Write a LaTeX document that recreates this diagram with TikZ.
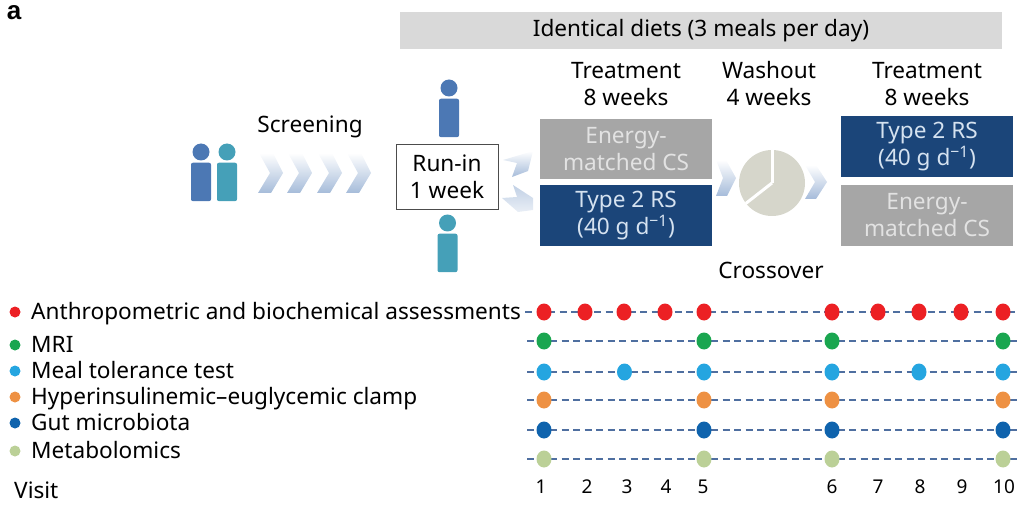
\documentclass[tikz,border=0pt]{standalone}
\usepackage{fontspec}
\setmainfont{Noto Sans}
\newfontfamily\panelfont{Liberation Sans}
\usetikzlibrary{shapes.geometric}
\definecolor{barGray}{HTML}{D9D9D9}
\definecolor{csGray}{HTML}{A6A6A6}
\definecolor{rsNavy}{HTML}{1B4579}
\definecolor{csText}{HTML}{E2E2E2}
\definecolor{rsText}{HTML}{D5E2F0}
\definecolor{personBlue}{HTML}{4C78B4}
\definecolor{personTeal}{HTML}{45A0B8}
\definecolor{pieGray}{HTML}{D6D6CB}
\definecolor{lineBlue}{HTML}{4F6FA0}
\definecolor{dotRed}{HTML}{EC2024}
\definecolor{dotGreen}{HTML}{1AA650}
\definecolor{dotSky}{HTML}{25A5E0}
\definecolor{dotOrange}{HTML}{EE9143}
\definecolor{dotBlue}{HTML}{0F63AD}
\definecolor{dotOlive}{HTML}{BBD097}
\begin{document}
\begin{tikzpicture}[x=1pt,y=-1pt,font=\fontsize{22.6}{27}\selectfont]
            \tikzstyle{label}=[inner sep=0pt,align=center]
            \tikzstyle{legend}=[inner sep=0pt,anchor=base west]
            \tikzstyle{block}=[minimum width=172pt,inner sep=0pt,align=center]
            \tikzstyle{chev}=[top color=white,bottom color=personBlue!50]
            \tikzstyle{visit}=[ellipse,inner sep=0pt,minimum width=15pt,minimum height=17pt]
            \tikzstyle{track}=[lineBlue,line width=1.9pt,dash pattern=on 7pt off 4.5pt]
            \useasboundingbox (0,0) rectangle (1023,505);
            % top band and panel letter
            \node[label,font=\fontsize{26}{26}\selectfont\panelfont\bfseries] (panel) at (14,13) {a};
            \node[fill=barGray,minimum width=602pt,minimum height=37pt,inner sep=0pt] (diets) at (701,30.5) {Identical diets (3 meals per day)};
            \node[label] (treatA) at (626,84) {Treatment\\8 weeks};
            \node[label] (wash) at (769,84) {Washout\\4 weeks};
            \node[label] (treatB) at (927,84) {Treatment\\8 weeks};
            \node[label] (screen) at (310,127) {Screening};
            \node[label] (cross) at (771,270) {Crossover};
            % people
            \foreach \pname/\px/\py/\pcol in {pa/201/152/personBlue,pb/227/152/personTeal,pc/449/88/personBlue,pd/447.5/223/personTeal}{
                \node[circle,fill=\pcol,minimum size=17pt,inner sep=0pt] (\pname head) at (\px,\py) {};
                \node[fill=\pcol,rounded corners=2pt,minimum width=20pt,minimum height=38.5pt,inner sep=0pt,anchor=north] (\pname body) at (\px,\py+10.5) {};
            }
            % chevrons
            \foreach \cx in {259,288,318,347}
                \shade[chev] (\cx,153) -- (\cx+14,153) -- (\cx+24,173) -- (\cx+12,193) -- (\cx-1,193) -- (\cx+11,173) -- cycle;
            \shade[chev] (716,160) -- (726,160) -- (736,178) -- (727,196) -- (716,196) -- (723,178) -- cycle;
            \shade[chev] (805,165) -- (816,165) -- (827,182) -- (816,199) -- (805,199) -- (815,182) -- cycle;
            \shade[chev] (503,160) -- (533,151) -- (528,171) -- (512,177) -- (517,163) -- cycle;
            \shade[chev,top color=personBlue!35,bottom color=personBlue!12] (502,198) -- (517,197) -- (513,185) -- (533,198) -- (533,210) -- (518,212) -- cycle;
            % run-in and treatment blocks
            \node[draw=black!70,line width=1pt,fill=white,minimum width=102pt,minimum height=65pt,inner sep=0pt,align=center] (runin) at (447,177) {Run-in\\1 week};
            \node[block,fill=csGray,text=csText,minimum height=60pt] (csA) at (626,149) {Energy-\\matched CS};
            \node[block,fill=rsNavy,text=rsText,minimum height=61pt] (rsA) at (626,215.5) {Type 2 RS\\(40 g d\textsuperscript{−1})};
            \node[block,fill=rsNavy,text=rsText,minimum height=61pt] (rsB) at (927,146.5) {Type 2 RS\\(40 g d\textsuperscript{−1})};
            \node[block,fill=csGray,text=csText,minimum height=61pt] (csB) at (927,215.5) {Energy-\\matched CS};
            % washout clock
            \node[circle,fill=pieGray,minimum size=66pt,inner sep=0pt] (pie) at (772,183) {};
            \draw[white,line width=3pt] (pie.center) -- (pie.north);
            \draw[white,line width=3pt] (pie.center) -- (pie.218);
            % legend
            \foreach \lname/\ly/\lcol/\ltext in {anthro/312/dotRed/Anthropometric and biochemical assessments,mri/345/dotGreen/MRI,meal/371/dotSky/Meal tolerance test,clamp/397/dotOrange/Hyperinsulinemic–euglycemic clamp,gut/423/dotBlue/Gut microbiota,meta/451/dotOlive/Metabolomics}{
                \node[circle,fill=\lcol,minimum size=11pt,inner sep=0pt] (\lname dot) at (15,\ly) {};
                \node[legend] (\lname) at (31,\ly+7.5) {\ltext};
            }
            \node[legend] (visit) at (14,498.5) {Visit};
            % visit tracks
            \foreach \tname/\ty/\tstart/\tcol/\txs in {anthro/312/525/dotRed/{544,585,624,665,704,832,878,919,961,1003},mri/341/527/dotGreen/{544,704,832,1003},meal/372/527/dotSky/{544,624.5,704,832,919,1003},clamp/400/527/dotOrange/{544,704,832,1003},gut/430/527/dotBlue/{544,704,832,1003},meta/459/527/dotOlive/{544,704,832,1003}}{
                \coordinate (\tname A) at (\tstart,\ty);
                \coordinate (\tname B) at (1017,\ty);
                \draw[track] (\tname A) -- (\tname B);
                \foreach \tx in \txs
                    \node[visit,fill=\tcol] (\tname\tx) at (\tx,\ty) {};
            }
            \foreach \vnum/\vx in {1/541,2/587,3/627,4/666,5/703,6/832,7/878,8/920,9/962,10/1004}
                \node[label,font=\fontsize{19}{19}\selectfont,anchor=base] (v\vnum) at (\vx,493) {\vnum};
        \end{tikzpicture}
\end{document}
